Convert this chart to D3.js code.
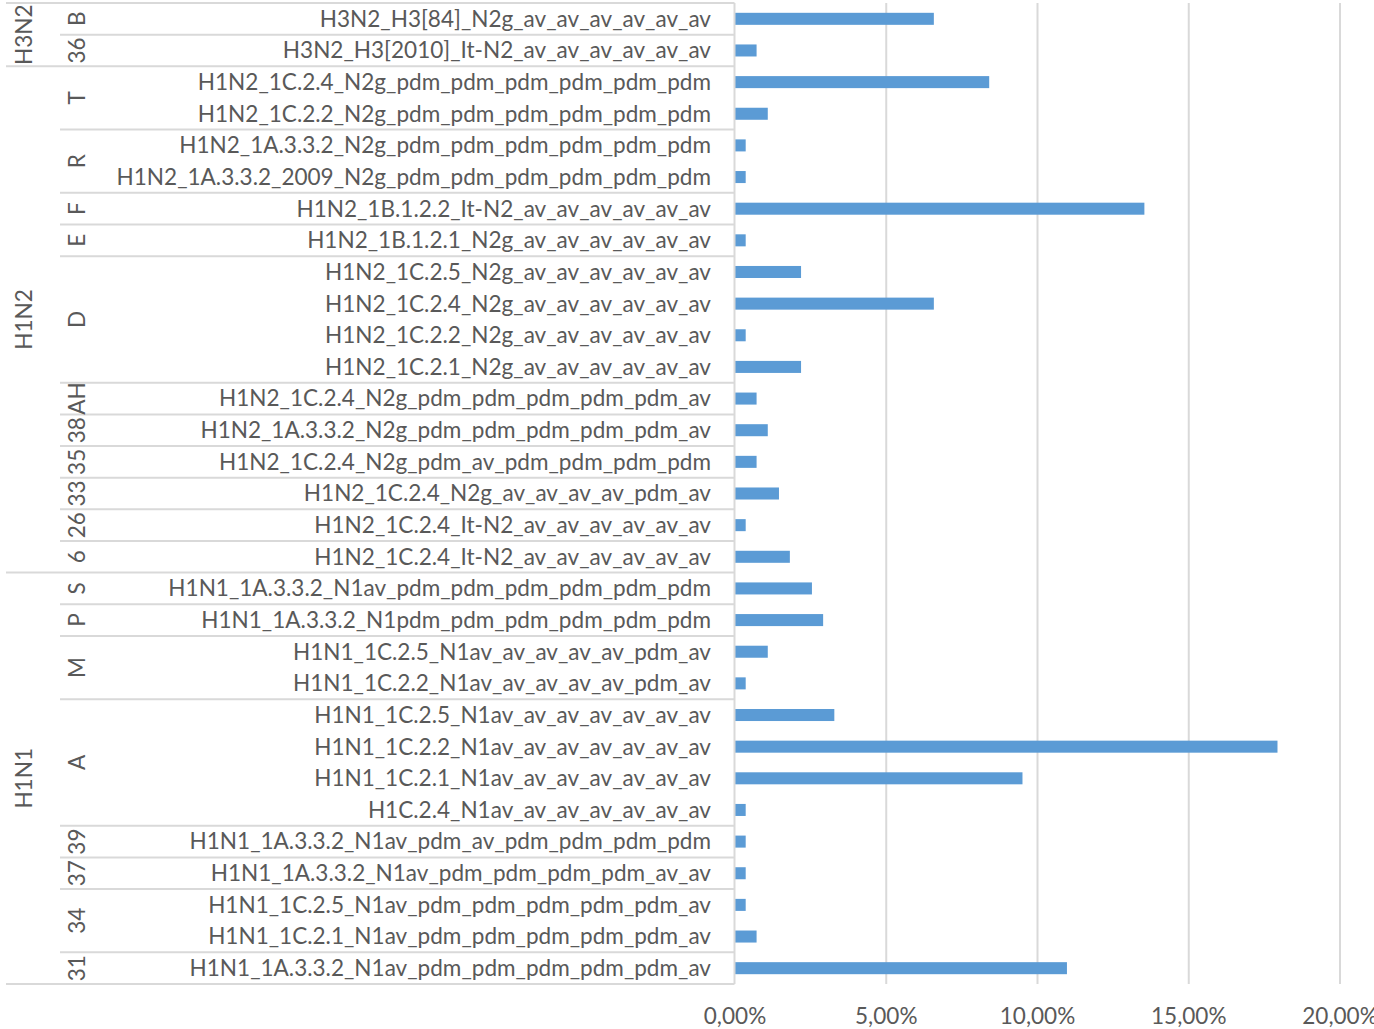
<!DOCTYPE html>
<html>
<head>
<meta charset="utf-8">
<script src="https://cdn.jsdelivr.net/npm/d3@7"></script>
<style>
  html, body { margin: 0; padding: 0; background: #ffffff; }
  svg { display: block; }
  text { font-family: Lato, "Open Sans", "Liberation Sans", sans-serif; fill: #595959; }
</style>
</head>
<body>
<svg id="chart" width="1374" height="1029"></svg>
<script>
// ---- Data ----
const subtypes = ["H3N2", "H1N2", "H1N1"];
const subtypeSizes = [2, 16, 13];

const groups = ["B", "36",
  "T", "R", "F", "E", "D", "AH", "38", "35", "33", "26", "6",
  "S", "P", "M", "A", "39", "37", "34", "31"];
const groupSizes = [1, 1,
  2, 2, 1, 1, 4, 1, 1, 1, 1, 1, 1,
  1, 1, 2, 4, 1, 1, 2, 1];

const labels = [
  "H3N2_H3[84]_N2g_av_av_av_av_av_av",
  "H3N2_H3[2010]_It-N2_av_av_av_av_av_av",
  "H1N2_1C.2.4_N2g_pdm_pdm_pdm_pdm_pdm_pdm",
  "H1N2_1C.2.2_N2g_pdm_pdm_pdm_pdm_pdm_pdm",
  "H1N2_1A.3.3.2_N2g_pdm_pdm_pdm_pdm_pdm_pdm",
  "H1N2_1A.3.3.2_2009_N2g_pdm_pdm_pdm_pdm_pdm_pdm",
  "H1N2_1B.1.2.2_It-N2_av_av_av_av_av_av",
  "H1N2_1B.1.2.1_N2g_av_av_av_av_av_av",
  "H1N2_1C.2.5_N2g_av_av_av_av_av_av",
  "H1N2_1C.2.4_N2g_av_av_av_av_av_av",
  "H1N2_1C.2.2_N2g_av_av_av_av_av_av",
  "H1N2_1C.2.1_N2g_av_av_av_av_av_av",
  "H1N2_1C.2.4_N2g_pdm_pdm_pdm_pdm_pdm_av",
  "H1N2_1A.3.3.2_N2g_pdm_pdm_pdm_pdm_pdm_av",
  "H1N2_1C.2.4_N2g_pdm_av_pdm_pdm_pdm_pdm",
  "H1N2_1C.2.4_N2g_av_av_av_av_pdm_av",
  "H1N2_1C.2.4_It-N2_av_av_av_av_av_av",
  "H1N2_1C.2.4_It-N2_av_av_av_av_av_av",
  "H1N1_1A.3.3.2_N1av_pdm_pdm_pdm_pdm_pdm_pdm",
  "H1N1_1A.3.3.2_N1pdm_pdm_pdm_pdm_pdm_pdm",
  "H1N1_1C.2.5_N1av_av_av_av_av_pdm_av",
  "H1N1_1C.2.2_N1av_av_av_av_av_pdm_av",
  "H1N1_1C.2.5_N1av_av_av_av_av_av_av",
  "H1N1_1C.2.2_N1av_av_av_av_av_av_av",
  "H1N1_1C.2.1_N1av_av_av_av_av_av_av",
  "H1C.2.4_N1av_av_av_av_av_av_av",
  "H1N1_1A.3.3.2_N1av_pdm_av_pdm_pdm_pdm_pdm",
  "H1N1_1A.3.3.2_N1av_pdm_pdm_pdm_pdm_av_av",
  "H1N1_1C.2.5_N1av_pdm_pdm_pdm_pdm_pdm_av",
  "H1N1_1C.2.1_N1av_pdm_pdm_pdm_pdm_pdm_av",
  "H1N1_1A.3.3.2_N1av_pdm_pdm_pdm_pdm_pdm_av"
];

const values = [
  6.59, 0.73,
  8.42, 1.10, 0.37, 0.37, 13.55, 0.37,
  2.20, 6.59, 0.37, 2.20,
  0.73, 1.10, 0.73, 1.47, 0.37, 1.83,
  2.56, 2.93, 1.10, 0.37,
  3.30, 17.95, 9.52, 0.37,
  0.37, 0.37, 0.37, 0.73, 10.99
];

const xTicks = [0, 5, 10, 15, 20];

// ---- Layout ----
const svg = d3.select("#chart");
const plotLeft = 734.5, plotRight = 1339.5;
const plotTop = 3, plotBottom = 984;
const col3Left = 6, col2Left = 60, labelRight = 711;
const gridColor = "#d9d9d9";
const barColor = "#5b9bd5";

const idx = d3.range(labels.length);
const y = d3.scaleBand().domain(idx).range([plotTop, plotBottom]).paddingInner(0.62).paddingOuter(0.31);
const step = y.step();
const rowTop = i => plotTop + i * step;

const x = d3.scaleLinear().domain([0, 20]).range([plotLeft, plotRight]);

// gridlines
const gridAxis = d3.axisBottom(x).tickValues(xTicks.slice(1)).tickSize(-(plotBottom - plotTop)).tickFormat("");
const gg = svg.append("g").attr("transform", `translate(0,${plotBottom})`).call(gridAxis);
gg.select(".domain").remove();
gg.selectAll(".tick line").attr("stroke", gridColor).attr("stroke-width", 2);

// bars
svg.append("g").selectAll("rect").data(idx).join("rect")
  .attr("x", x(0))
  .attr("y", i => y(i))
  .attr("width", i => x(values[i]) - x(0))
  .attr("height", y.bandwidth())
  .attr("fill", barColor);

// category axis line
svg.append("line").attr("x1", plotLeft).attr("x2", plotLeft)
  .attr("y1", plotTop).attr("y2", plotBottom)
  .attr("stroke", gridColor).attr("stroke-width", 2);

// separators
const sepG = svg.append("g").attr("stroke", gridColor).attr("stroke-width", 2);
const subtypeBounds = new Set();
let acc = 0;
subtypeBounds.add(0);
subtypeSizes.forEach(s => { acc += s; subtypeBounds.add(acc); });
const groupBounds = [0];
acc = 0;
groupSizes.forEach(s => { acc += s; groupBounds.push(acc); });
groupBounds.forEach(b => {
  const yy = rowTop(b);
  const x1 = subtypeBounds.has(b) ? col3Left : col2Left;
  sepG.append("line").attr("x1", x1).attr("x2", plotLeft).attr("y1", yy).attr("y2", yy);
});

// labels (fit font to reference width)
const lab = svg.append("g").selectAll("text").data(idx).join("text")
  .attr("x", labelRight)
  .attr("y", i => y(i) + y.bandwidth() / 2)
  .attr("dy", "0.35em")
  .attr("text-anchor", "end")
  .style("font-size", "22px")
  .text(i => labels[i]);
let maxW = 0;
lab.each(function() { maxW = Math.max(maxW, this.getComputedTextLength()); });
const fs = Math.min(24, 22 * 595 / maxW);
lab.style("font-size", fs + "px");

// group labels (rotated)
acc = 0;
groups.forEach((g, k) => {
  const cy = rowTop(acc) + groupSizes[k] * step / 2;
  acc += groupSizes[k];
  svg.append("text")
    .attr("transform", `translate(77,${cy}) rotate(-90)`)
    .attr("text-anchor", "middle")
    .attr("dy", "0.35em")
    .style("font-size", fs + "px")
    .text(g);
});

// subtype labels
acc = 0;
subtypes.forEach((s, k) => {
  const cy = rowTop(acc) + subtypeSizes[k] * step / 2;
  acc += subtypeSizes[k];
  svg.append("text")
    .attr("transform", `translate(24,${cy}) rotate(-90)`)
    .attr("text-anchor", "middle")
    .attr("dy", "0.35em")
    .style("font-size", fs + "px")
    .text(s);
});

// value axis labels
const locale = d3.formatLocale({decimal: ",", thousands: ".", grouping: [3], currency: ["", "€"]});
const fmt = locale.format(".2f");
const ax = d3.axisBottom(x).tickValues(xTicks).tickSize(0).tickPadding(0).tickFormat(d => fmt(d) + "%");
const ag = svg.append("g").attr("transform", `translate(0,1016)`).call(ax);
ag.select(".domain").remove();
ag.selectAll(".tick text")
  .attr("y", 0).attr("dy", "0.35em")
  .style("font-size", fs + "px")
  .style("font-family", "Lato, 'Open Sans', sans-serif")
  .attr("fill", "#595959");
</script>
</body>
</html>
